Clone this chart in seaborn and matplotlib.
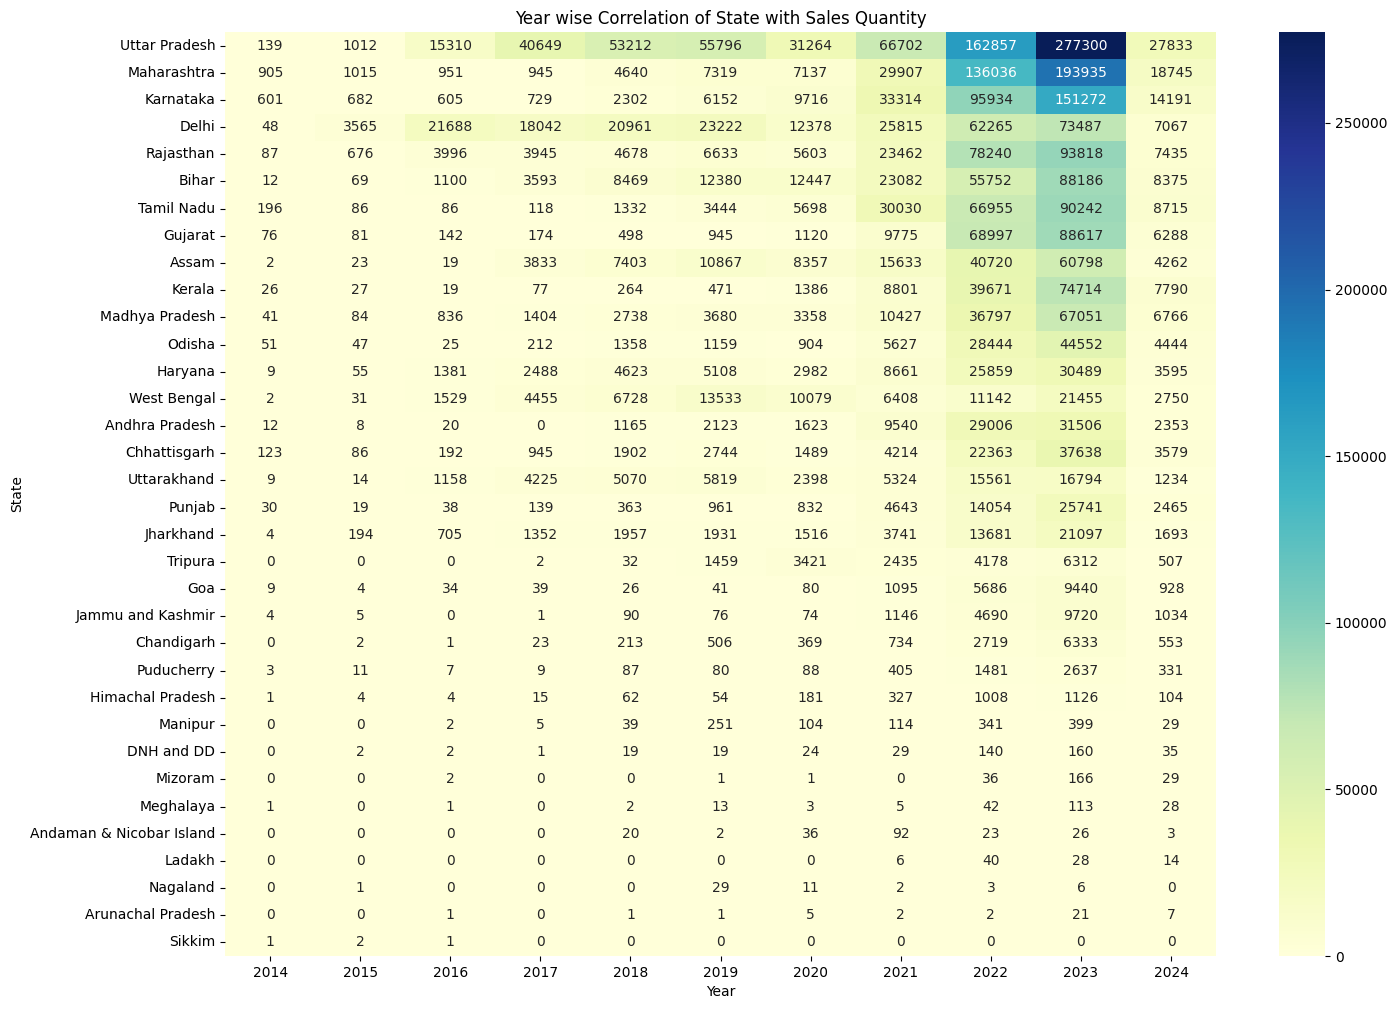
import matplotlib
matplotlib.use("Agg")
import matplotlib.pyplot as plt
import seaborn as sns, pandas as pd

# sales quantity per state and year
years = [2014, 2015, 2016, 2017, 2018, 2019, 2020, 2021, 2022, 2023, 2024]
states = ["Uttar Pradesh", "Maharashtra", "Karnataka", "Delhi", "Rajasthan", "Bihar",
          "Tamil Nadu", "Gujarat", "Assam", "Kerala", "Madhya Pradesh", "Odisha",
          "Haryana", "West Bengal", "Andhra Pradesh", "Chhattisgarh", "Uttarakhand",
          "Punjab", "Jharkhand", "Tripura", "Goa", "Jammu and Kashmir", "Chandigarh",
          "Puducherry", "Himachal Pradesh", "Manipur", "DNH and DD", "Mizoram",
          "Meghalaya", "Andaman & Nicobar Island", "Ladakh", "Nagaland",
          "Arunachal Pradesh", "Sikkim"]

uttar_pradesh = [139, 1012, 15310, 40649, 53212, 55796, 31264, 66702, 162857, 277300, 27833]
maharashtra = [905, 1015, 951, 945, 4640, 7319, 7137, 29907, 136036, 193935, 18745]
karnataka = [601, 682, 605, 729, 2302, 6152, 9716, 33314, 95934, 151272, 14191]
delhi = [48, 3565, 21688, 18042, 20961, 23222, 12378, 25815, 62265, 73487, 7067]
rajasthan = [87, 676, 3996, 3945, 4678, 6633, 5603, 23462, 78240, 93818, 7435]
bihar = [12, 69, 1100, 3593, 8469, 12380, 12447, 23082, 55752, 88186, 8375]
tamil_nadu = [196, 86, 86, 118, 1332, 3444, 5698, 30030, 66955, 90242, 8715]
gujarat = [76, 81, 142, 174, 498, 945, 1120, 9775, 68997, 88617, 6288]
assam = [2, 23, 19, 3833, 7403, 10867, 8357, 15633, 40720, 60798, 4262]
kerala = [26, 27, 19, 77, 264, 471, 1386, 8801, 39671, 74714, 7790]
madhya_pradesh = [41, 84, 836, 1404, 2738, 3680, 3358, 10427, 36797, 67051, 6766]
odisha = [51, 47, 25, 212, 1358, 1159, 904, 5627, 28444, 44552, 4444]
haryana = [9, 55, 1381, 2488, 4623, 5108, 2982, 8661, 25859, 30489, 3595]
west_bengal = [2, 31, 1529, 4455, 6728, 13533, 10079, 6408, 11142, 21455, 2750]
andhra_pradesh = [12, 8, 20, 0, 1165, 2123, 1623, 9540, 29006, 31506, 2353]
chhattisgarh = [123, 86, 192, 945, 1902, 2744, 1489, 4214, 22363, 37638, 3579]
uttarakhand = [9, 14, 1158, 4225, 5070, 5819, 2398, 5324, 15561, 16794, 1234]
punjab = [30, 19, 38, 139, 363, 961, 832, 4643, 14054, 25741, 2465]
jharkhand = [4, 194, 705, 1352, 1957, 1931, 1516, 3741, 13681, 21097, 1693]
tripura = [0, 0, 0, 2, 32, 1459, 3421, 2435, 4178, 6312, 507]
goa = [9, 4, 34, 39, 26, 41, 80, 1095, 5686, 9440, 928]
jammu_kashmir = [4, 5, 0, 1, 90, 76, 74, 1146, 4690, 9720, 1034]
chandigarh = [0, 2, 1, 23, 213, 506, 369, 734, 2719, 6333, 553]
puducherry = [3, 11, 7, 9, 87, 80, 88, 405, 1481, 2637, 331]
himachal_pradesh = [1, 4, 4, 15, 62, 54, 181, 327, 1008, 1126, 104]
manipur = [0, 0, 2, 5, 39, 251, 104, 114, 341, 399, 29]
dnh_dd = [0, 2, 2, 1, 19, 19, 24, 29, 140, 160, 35]
mizoram = [0, 0, 2, 0, 0, 1, 1, 0, 36, 166, 29]
meghalaya = [1, 0, 1, 0, 2, 13, 3, 5, 42, 113, 28]
andaman = [0, 0, 0, 0, 20, 2, 36, 92, 23, 26, 3]
ladakh = [0, 0, 0, 0, 0, 0, 0, 6, 40, 28, 14]
nagaland = [0, 1, 0, 0, 0, 29, 11, 2, 3, 6, 0]
arunachal_pradesh = [0, 0, 1, 0, 1, 1, 5, 2, 2, 21, 7]
sikkim = [1, 2, 1, 0, 0, 0, 0, 0, 0, 0, 0]

rows = [uttar_pradesh, maharashtra, karnataka, delhi, rajasthan, bihar, tamil_nadu,
        gujarat, assam, kerala, madhya_pradesh, odisha, haryana, west_bengal,
        andhra_pradesh, chhattisgarh, uttarakhand, punjab, jharkhand, tripura, goa,
        jammu_kashmir, chandigarh, puducherry, himachal_pradesh, manipur, dnh_dd,
        mizoram, meghalaya, andaman, ladakh, nagaland, arunachal_pradesh, sikkim]

df = pd.DataFrame(rows, index=pd.Index(states, name="State"),
                  columns=pd.Index(years, name="Year"))

fig = plt.figure(figsize=(13.97, 10.09), dpi=100)
# place heatmap and colorbar where they sit in the reference
ax = fig.add_axes([0.1611, 0.0525, 0.7094, 0.9158])
cax = fig.add_axes([0.9155, 0.0525, 0.0329, 0.9158])
sns.heatmap(df, annot=True, fmt="d", cmap="YlGnBu", ax=ax, cbar_ax=cax)
ax.set_title("Year wise Correlation of State with Sales Quantity")
plt.savefig("out.png", dpi=100)
